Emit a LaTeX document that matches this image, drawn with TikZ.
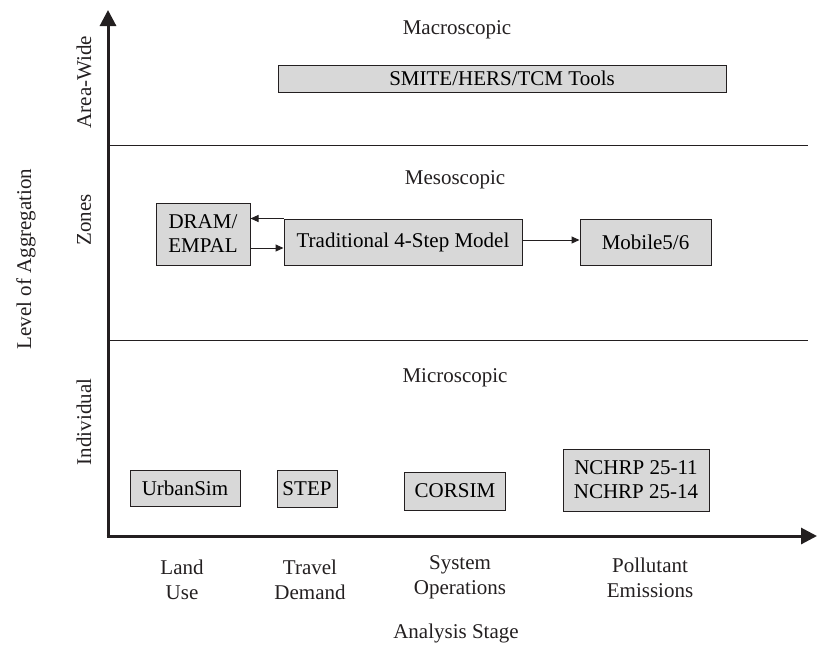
\documentclass[tikz,border=0pt]{standalone}
\usepackage{fontspec}
\setmainfont{Liberation Serif}
\usetikzlibrary{arrows.meta}
\definecolor{boxgray}{HTML}{D8D8D8}
\definecolor{ink}{HTML}{231F20}
\tikzset{
  tool/.style={draw=ink, line width=1pt, fill=boxgray, inner sep=0pt, align=center, font=\fontsize{21}{24}\selectfont},
  lbl/.style={align=center, font=\fontsize{21}{25}\selectfont, text=ink},
  axis/.style={line width=3pt, draw=ink, -{Triangle[width=16pt,length=16pt]}},
  flow/.style={line width=1pt, draw=ink, -{Triangle[width=7pt,length=8pt]}},
  sep/.style={line width=0.8pt, draw=ink}
}
\begin{document}
\begin{tikzpicture}[x=1pt,y=-1pt]
\useasboundingbox (0,0) rectangle (817,649);
% axes
\coordinate (O) at (108,536);
\coordinate (ytop) at (108,10);
\coordinate (xend) at (817,536);
\draw[axis] (O) -- (ytop);
\draw[axis] (106.5,536) -- (xend);
% separators
\coordinate (s1a) at (108,145); \coordinate (s1b) at (808,145);
\coordinate (s2a) at (108,340); \coordinate (s2b) at (808,340);
\draw[sep] (s1a) -- (s1b);
\draw[sep] (s2a) -- (s2b);
% level titles
\node[lbl] (macro) at (457,30) {Macroscopic};
\node[lbl] (meso) at (455,180) {Mesoscopic};
\node[lbl] (micro) at (455,378) {Microscopic};
% boxes
\node[tool, minimum width=448pt, minimum height=27pt] (smite) at (502,78.5) {SMITE/HERS/TCM Tools};
\node[tool, minimum width=94pt, minimum height=62pt] (dram) at (203,234) {DRAM/\\EMPAL};
\node[tool, minimum width=238pt, minimum height=46pt] (trad) at (403,242) {Traditional 4-Step Model};
\node[tool, minimum width=131pt, minimum height=46pt] (mobile) at (645.5,242) {Mobile5/6};
\node[tool, minimum width=110pt, minimum height=36pt] (urban) at (185,488) {UrbanSim};
\node[tool, minimum width=60pt, minimum height=37pt] (step) at (307,488.5) {STEP};
\node[tool, minimum width=101pt, minimum height=38pt] (corsim) at (455,491) {CORSIM};
\node[tool, minimum width=146pt, minimum height=62pt] (nchrp) at (636,480) {NCHRP 25-11\\NCHRP 25-14};
% flows
\draw[flow] (trad.north west) -- (trad.north west -| dram.east);
\draw[flow] (dram.east |- 0,248) -- (trad.west |- 0,248);
\draw[flow] (trad.east |- 0,240) -- (mobile.west |- 0,240);
% stage labels
\node[lbl] (land) at (182,579.5) {Land\\Use};
\node[lbl] (travel) at (310,579.5) {Travel\\Demand};
\node[lbl] (sysop) at (460,577.5) {System\\Operations};
\node[lbl] (poll) at (650,577.5) {Pollutant\\Emissions};
\node[lbl] (stage) at (456,633) {Analysis Stage};
% aggregation labels
\node[lbl, rotate=90] (agg) at (26,259) {Level of Aggregation};
\node[lbl, rotate=90] (area) at (84,82) {Area-Wide};
\node[lbl, rotate=90] (zones) at (84,220) {Zones};
\node[lbl, rotate=90] (indiv) at (84,422) {Individual};
\end{tikzpicture}
\end{document}
